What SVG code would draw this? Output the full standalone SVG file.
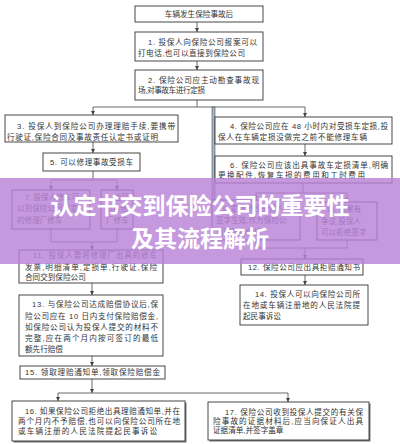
<svg xmlns="http://www.w3.org/2000/svg" width="400" height="444" viewBox="0 0 400 444">
<defs>
<style>
.b{fill:#fff;stroke:#333;stroke-width:0.9}
.s{fill:#777}
.t{font-family:"Liberation Sans","Noto Sans CJK SC",sans-serif;font-size:7.6px;fill:#333}
.m{text-anchor:middle}
.c{stroke:#444;stroke-width:0.8;fill:none}
.a{stroke:#444;stroke-width:0.8;fill:none;marker-end:url(#ah)}
.ti{font-family:"Noto Sans CJK SC","Noto Sans CJK JP",sans-serif;font-size:23px;font-weight:bold;fill:#fff;text-anchor:middle}
</style>
<marker id="ah" markerWidth="4" markerHeight="4" refX="4" refY="2" orient="auto" markerUnits="userSpaceOnUse">
<path d="M0,0 L4,2 L0,4 z" fill="#444"/>
</marker>
</defs>
<rect width="400" height="444" fill="#fff"/>

<g id="connectors">
<line class="a" x1="197" y1="22" x2="197" y2="32"/>
<line class="a" x1="197" y1="61" x2="197" y2="70"/>
<line class="c" x1="197" y1="100" x2="197" y2="107"/>
<line class="c" x1="93" y1="107" x2="305" y2="107"/>
<line class="a" x1="93" y1="107" x2="93" y2="115"/>
<line class="a" x1="305" y1="107" x2="305" y2="117"/>
<rect x="212" y="107" width="3" height="93" fill="#a9b8c8" stroke="#333" stroke-width="0.5"/>
<line class="a" x1="93" y1="142" x2="93" y2="153"/>
<line class="c" x1="93" y1="171" x2="93" y2="180"/>
<line class="c" x1="51" y1="180" x2="117" y2="180"/>
<line class="a" x1="51" y1="180" x2="51" y2="190"/>
<line class="a" x1="117" y1="180" x2="117" y2="190"/>
<line class="a" x1="305" y1="144" x2="305" y2="156"/>
<line class="c" x1="303" y1="183" x2="303" y2="193"/>
<line class="c" x1="256" y1="193" x2="347" y2="193"/>
<line class="a" x1="256" y1="193" x2="256" y2="200"/>
<line class="a" x1="347" y1="193" x2="347" y2="202"/>
<line class="c" x1="51" y1="229" x2="51" y2="242"/>
<line class="c" x1="117" y1="229" x2="117" y2="242"/>
<line class="c" x1="51" y1="242" x2="117" y2="242"/>
<line class="a" x1="92" y1="242" x2="92" y2="250"/>
<line class="c" x1="256" y1="240" x2="256" y2="248"/>
<line class="c" x1="347" y1="240" x2="347" y2="248"/>
<line class="c" x1="256" y1="248" x2="347" y2="248"/>
<line class="a" x1="305" y1="248" x2="305" y2="259"/>
<line class="a" x1="92" y1="283" x2="92" y2="295"/>
<line class="a" x1="305" y1="275" x2="305" y2="285"/>
<line class="a" x1="92" y1="356" x2="92" y2="366"/>
<line class="a" x1="92" y1="379" x2="92" y2="393"/>
<line class="c" x1="58" y1="393" x2="288" y2="393"/>
<line class="a" x1="58" y1="393" x2="58" y2="401"/>
<line class="a" x1="288" y1="393" x2="288" y2="402"/>
</g>

<g id="n0"><rect class="b" x="135" y="6" width="128" height="16"/>
<text class="t m" x="199" y="17">车辆发生保险事故后</text></g>

<g id="n1"><rect class="b" x="135" y="32" width="128" height="29"/>
<text class="t" x="148" y="45" textLength="109" lengthAdjust="spacing">1. 投保人向保险公司报案可以</text>
<text class="t" x="138" y="56" textLength="107" lengthAdjust="spacing">打电话,也可以直接到保险公司</text></g>

<g id="n2"><rect class="b" x="135" y="70" width="128" height="30"/>
<text class="t" x="148" y="83" textLength="111" lengthAdjust="spacing">2. 保险公司应主动勘查事故现</text>
<text class="t" x="138" y="93" textLength="67" lengthAdjust="spacing">场,对事故车进行定损</text></g>

<g id="n3"><rect class="b" x="5" y="115" width="173" height="27"/>
<text class="t" x="17" y="129" textLength="158" lengthAdjust="spacing">3. 投保人到保险公司办理理赔手续,要携带</text>
<text class="t" x="7" y="140" textLength="151" lengthAdjust="spacing">行驶证,保险合同及事故责任认定书或证明</text></g>

<g id="n5"><rect class="b" x="43" y="153" width="97" height="18"/>
<text class="t" x="50" y="165" textLength="83" lengthAdjust="spacing">5. 可以修理事故受损车</text></g>

<g id="n4"><rect class="b" x="215" y="117" width="177" height="27"/>
<text class="t" x="230" y="129" textLength="158" lengthAdjust="spacing">4. 保险公司应在 48 小时内对受损车定损,投</text>
<text class="t" x="218" y="140" textLength="149" lengthAdjust="spacing">保人在车辆定损没做完之前不能修理车辆</text></g>

<g id="n6"><rect class="b" x="215" y="156" width="177" height="27"/>
<text class="t" x="230" y="168" textLength="158" lengthAdjust="spacing">6. 保险公司应该出具事故车定损清单,明确</text>
<text class="t" x="218" y="178" textLength="147" lengthAdjust="spacing">更换配件,恢复车损的费用和工时费用</text></g>

<g id="n7"><rect class="b" x="12" y="190" width="78" height="39"/>
<text class="t" x="25" y="200">7. 投保人修车可</text>
<text class="t" x="17" y="211">以到保险公司指定</text>
<text class="t" x="17" y="223">的修理厂修车</text></g>

<g id="n8"><rect class="b" x="101" y="190" width="32" height="39"/>
<text class="t" x="105" y="200">8. 也可</text>
<text class="t" x="105" y="211">到其他</text>
<text class="t" x="106" y="223">厂修车</text></g>

<g id="n9"><rect class="b" x="212" y="200" width="88" height="40"/>
<text class="t" x="222" y="211">9. 定损单经投保人</text>
<text class="t" x="216" y="223">签字生效,作为保险公</text>
<text class="t" x="216" y="235">司理赔的依据</text></g>

<g id="n10"><rect class="b" x="317" y="202" width="60" height="38"/>
<text class="t" x="326" y="212">10. 如果有</text>
<text class="t" x="321" y="224">争议,投保人</text>
<text class="t" x="321" y="235">可以拒绝签字</text></g>

<g id="n11"><rect class="b" x="19" y="250" width="144" height="33"/>
<text class="t" x="33" y="258" textLength="124" lengthAdjust="spacing">11. 投保人要将修理厂出具的修车</text>
<text class="t" x="25" y="270" textLength="132" lengthAdjust="spacing">发票,明细清单,定损单,行驶证,保险</text>
<text class="t" x="25" y="280">合同交到保险公司</text></g>

<g id="n12"><rect class="b" x="241" y="259" width="122" height="16"/>
<text class="t" x="248" y="270" textLength="112" lengthAdjust="spacing">12. 保险公司应出具拒赔通知书</text></g>

<g id="n14"><rect class="b" x="240" y="285" width="128" height="40"/>
<text class="t" x="255" y="297" textLength="105" lengthAdjust="spacing">14. 投保人可以向保险公司所</text>
<text class="t" x="243" y="308" textLength="117" lengthAdjust="spacing">在地或车辆注册地的人民法院提</text>
<text class="t" x="243" y="319">起民事诉讼</text></g>

<g id="n13"><rect class="b" x="19" y="295" width="144" height="61"/>
<text class="t" x="32" y="307" textLength="126" lengthAdjust="spacing">13. 与保险公司达成赔偿协议后,保</text>
<text class="t" x="25" y="319" textLength="133" lengthAdjust="spacing">险公司应在 10 日内支付保险赔偿金,</text>
<text class="t" x="25" y="330" textLength="133" lengthAdjust="spacing">如保险公司认为投保人提交的材料不</text>
<text class="t" x="25" y="341" textLength="133" lengthAdjust="spacing">完整,应在两个月内按可签订的最低</text>
<text class="t" x="25" y="352">额先行赔偿</text></g>

<g id="n15"><rect class="b" x="20" y="366" width="145" height="13"/>
<text class="t" x="25" y="375" textLength="135" lengthAdjust="spacing">15. 领取理赔通知单,领取保险赔偿金</text></g>

<g id="n16"><rect class="s" x="13.5" y="402.5" width="173" height="40"/><rect class="b" x="12" y="401" width="173" height="40"/>
<text class="t" x="25" y="414" textLength="155" lengthAdjust="spacing">16. 如果保险公司拒绝出具理赔通知单,并在</text>
<text class="t" x="18" y="424" textLength="162" lengthAdjust="spacing">两个月内不予赔偿,也可以向保险公司所在地</text>
<text class="t" x="18" y="434" textLength="139" lengthAdjust="spacing">或车辆注册的人民法院提起民事诉讼</text></g>

<g id="n17"><rect class="s" x="209.5" y="403.5" width="161" height="38"/><rect class="b" x="208" y="402" width="161" height="38"/>
<text class="t" x="225" y="415" textLength="138" lengthAdjust="spacing">17. 保险公司收到投保人提交的有关保</text>
<text class="t" x="213" y="424" textLength="150" lengthAdjust="spacing">险事故的证据材料后,应当向保证人出具</text>
<text class="t" x="213" y="433">证据清单,并签字盖章</text></g>

<g id="banner">
<rect x="0" y="178" width="400" height="86" fill="rgb(186,131,216)" opacity="0.82"/>
<text class="ti" x="200" y="214">认定书交到保险公司的重要性</text>
<text class="ti" x="200" y="247">及其流程解析</text>
</g>
</svg>
